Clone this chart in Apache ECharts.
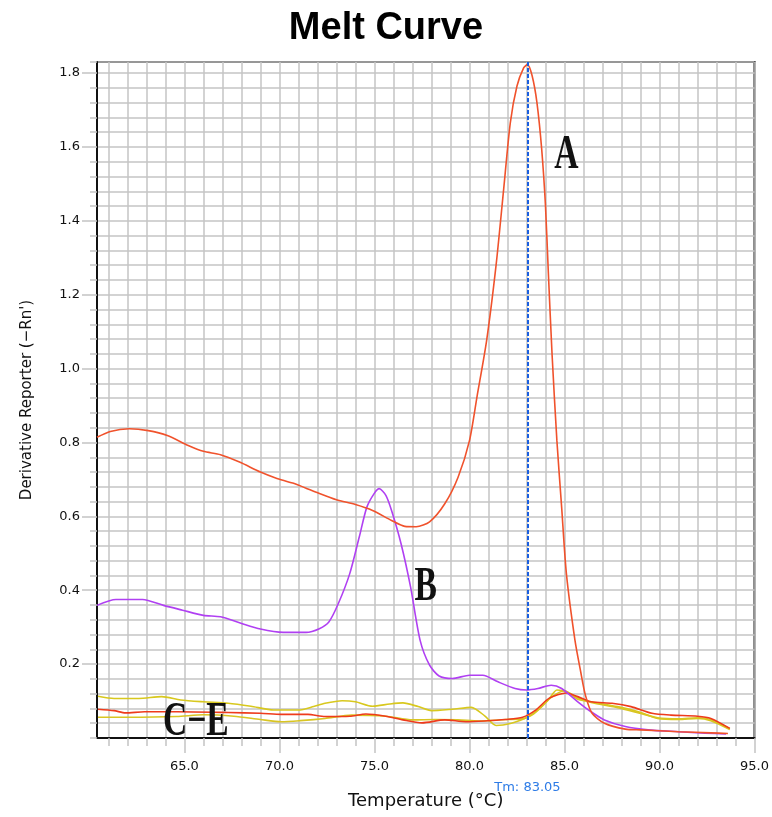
<!DOCTYPE html>
<html>
<head>
<meta charset="utf-8">
<title>Melt Curve</title>
<script src="https://cdn.jsdelivr.net/npm/echarts@6.0.0/dist/echarts.min.js"></script>
<style>
html, body { margin: 0; padding: 0; background: #fff; }
#main { width: 772px; height: 817px; }
</style>
</head>
<body>
<div id="main"></div>
<script>
// sample A (strong peak near 83 C)
var tempA = [60.4, 61.1, 62.1, 63.1, 64.1, 65.2, 66.0, 66.9, 67.9, 69.0, 69.8, 70.7, 71.9, 73.0, 74.0, 74.9,
  75.9, 76.6, 77.2, 77.9, 78.7, 79.4, 80.0, 80.4, 80.9, 81.4, 81.8, 82.15, 82.5, 82.85, 83.05, 83.3, 83.55,
  83.8, 84.0, 84.15, 84.35, 84.6, 84.85, 85.1, 85.55, 85.85, 86.1, 86.45, 87.1, 88.2, 89.0, 91.0, 92.7, 93.6]
var valA = [0.814, 0.830, 0.837, 0.832, 0.819, 0.792, 0.776, 0.767, 0.747, 0.720, 0.704, 0.690, 0.666, 0.645, 0.632, 0.616,
  0.589, 0.573, 0.572, 0.585, 0.634, 0.706, 0.805, 0.925, 1.075, 1.28, 1.486, 1.666, 1.765, 1.814, 1.823, 1.792, 1.72,
  1.594, 1.44, 1.26, 1.035, 0.805, 0.625, 0.445, 0.265, 0.18, 0.116, 0.067, 0.040, 0.024, 0.022, 0.017, 0.014, 0.012]

// sample B (peak near 75 C)
var tempB = [60.4, 61.4, 62.8, 63.9, 64.9, 66.0, 66.9, 67.9, 69.0, 70.2, 71.4, 72.1, 72.6, 73.1, 73.7, 74.2, 74.6,
  75.0, 75.25, 75.6, 75.9, 76.4, 76.9, 77.4, 77.9, 78.4, 79.1, 80.0, 80.7, 81.5, 82.4, 83.0, 83.6, 84.3, 84.85,
  85.7, 86.4, 87.1, 88.2, 89.4, 91.0, 92.4, 93.5]
var valB = [0.359, 0.375, 0.375, 0.359, 0.346, 0.332, 0.328, 0.312, 0.295, 0.286, 0.286, 0.296, 0.314, 0.364, 0.445, 0.544, 0.625,
  0.663, 0.675, 0.657, 0.616, 0.526, 0.409, 0.265, 0.197, 0.168, 0.161, 0.170, 0.170, 0.152, 0.134, 0.130, 0.134, 0.143, 0.134,
  0.098, 0.071, 0.049, 0.031, 0.022, 0.017, 0.013, 0.011]

// C-E group: upper yellow, red, lower yellow
var tempC = [60.45, 61.3, 62.6, 63.8, 64.8, 66.0, 67.3, 68.5, 69.7, 71.1, 71.8, 72.4, 73.3, 74.0, 74.9, 75.8, 76.5,
  77.3, 78.0, 79.1, 80.1, 80.8, 81.4, 82.2, 82.9, 83.4, 84.15, 84.6, 85.1, 85.7, 86.4, 87.8, 88.9, 89.9, 91.0,
  92.0, 92.7, 93.7]
var valC = [0.113, 0.107, 0.107, 0.112, 0.103, 0.098, 0.094, 0.086, 0.076, 0.076, 0.085, 0.094, 0.101, 0.098, 0.086, 0.092, 0.095,
  0.085, 0.074, 0.078, 0.083, 0.060, 0.034, 0.040, 0.053, 0.066, 0.103, 0.130, 0.125, 0.105, 0.098, 0.085, 0.071, 0.053, 0.050,
  0.053, 0.047, 0.023]

var tempD = [60.45, 61.3, 61.9, 62.9, 64.6, 67.3, 69.0, 70.1, 71.5, 72.4, 73.7, 74.55, 75.6, 76.5, 77.5, 78.7, 79.8,
  80.8, 81.9, 82.8, 83.5, 84.2, 85.1, 85.7, 86.4, 87.5, 88.5, 89.6, 90.6, 92.0, 92.7, 93.7]
var valD = [0.078, 0.074, 0.068, 0.071, 0.071, 0.069, 0.067, 0.064, 0.064, 0.058, 0.059, 0.065, 0.059, 0.049, 0.041, 0.049, 0.044,
  0.046, 0.050, 0.056, 0.076, 0.108, 0.122, 0.112, 0.098, 0.094, 0.085, 0.067, 0.062, 0.059, 0.053, 0.026]

var tempE = [60.45, 62.0, 64.6, 66.0, 67.6, 69.0, 70.1, 71.1, 72.4, 73.8, 75.6, 77.0, 78.2, 79.4, 80.5, 81.9, 82.9,
  83.6, 84.3, 85.0, 85.7, 86.4, 87.8, 88.9, 89.9, 91.0, 92.0, 92.7, 93.7]
var valE = [0.056, 0.056, 0.058, 0.063, 0.059, 0.050, 0.044, 0.047, 0.053, 0.062, 0.059, 0.049, 0.050, 0.049, 0.046, 0.050, 0.053,
  0.076, 0.110, 0.128, 0.108, 0.096, 0.082, 0.068, 0.055, 0.052, 0.055, 0.050, 0.025]

var xGridTicks = [61, 62, 63, 64, 65, 66, 67, 68, 69, 70, 71, 72, 73, 74, 75, 76, 77, 78, 79, 80,
  81, 82, 83, 84, 85, 86, 87, 88, 89, 90, 91, 92, 93, 94, 95]
var xLabels = [65, 70, 75, 80, 85, 90, 95]
var yLabels = [0.2, 0.4, 0.6, 0.8, 1.0, 1.2, 1.4, 1.6, 1.8]
var tm = 83.05

// annotation letters: [text, temperature, value]
var notes = [['A', 85.1, 1.576], ['B', 77.7, 0.408], ['C\u2212E', 65.6, 0.043]]

function pairs(xs, ys) {
  var out = []
  for (var i = 0; i < xs.length; i++) {
    out.push([xs[i], ys[i]])
  }
  return out
}

var gridGray = '#c4c4c4'
var font = 'DejaVu Sans'

var myChart = echarts.init(document.getElementById('main'), null, { renderer: 'canvas' })

function lineSeries(name, data, color) {
  return {
    name: name,
    type: 'line',
    data: data,
    showSymbol: false,
    smooth: 0.25,
    lineStyle: { color: color, width: 1.6 },
    z: 3
  }
}

var seriesA = lineSeries('A', pairs(tempA, valA), '#f0522c')
seriesA.markLine = {
  silent: true,
  symbol: 'none',
  lineStyle: { color: '#1a5fe0', type: [4, 2], width: 2 },
  label: {
    show: true,
    position: 'start',
    distance: 43,
    formatter: 'Tm: ' + tm.toFixed(2),
    color: '#2d7be6',
    fontFamily: font,
    fontSize: 13
  },
  data: [{ xAxis: tm }]
}

var option = {
  backgroundColor: '#fff',
  animation: false,
  title: {
    text: 'Melt Curve',
    left: 'center',
    top: 5,
    textStyle: { fontFamily: 'Arial', fontWeight: 'bold', fontSize: 38, color: '#000' }
  },
  grid: {
    left: 97, top: 62, right: 15, bottom: 79,
    show: true,
    borderColor: '#111',
    borderWidth: 2
  },
  xAxis: [
    {
      type: 'value',
      min: 60.4,
      max: 95,
      name: 'Temperature (\u00b0C)',
      nameLocation: 'middle',
      nameGap: 54,
      nameTextStyle: { fontFamily: font, fontSize: 18, color: '#111' },
      axisLine: { show: true, lineStyle: { color: '#111', width: 2 } },
      axisTick: { show: true, customValues: xGridTicks, length: 8, lineStyle: { color: gridGray, width: 1.5 } },
      axisLabel: {
        customValues: xLabels,
        margin: 22,
        fontFamily: font,
        fontSize: 13,
        color: '#111',
        formatter: function (v) { return v.toFixed(1) }
      },
      splitLine: { show: true, lineStyle: { color: gridGray, width: 1.5 } }
    },
    {
      type: 'value',
      min: 60.4,
      max: 95,
      position: 'bottom',
      axisLine: { show: false },
      axisTick: { show: true, customValues: xLabels, length: 15, lineStyle: { color: gridGray, width: 1.5 } },
      axisLabel: { show: false },
      splitLine: { show: false }
    }
  ],
  yAxis: [
    {
      type: 'value',
      min: 0,
      max: 1.83,
      interval: 0.04,
      name: 'Derivative Reporter (\u2212Rn\')',
      nameLocation: 'middle',
      nameGap: 62,
      nameTextStyle: { fontFamily: font, fontSize: 15, color: '#111' },
      axisLine: { show: true, lineStyle: { color: '#111', width: 2 } },
      axisTick: { show: true, length: 7, lineStyle: { color: gridGray, width: 1.5 } },
      axisLabel: {
        customValues: yLabels,
        margin: 17,
        fontFamily: font,
        fontSize: 13,
        color: '#111',
        formatter: function (v) { return v.toFixed(1) }
      },
      splitLine: { show: true, lineStyle: { color: gridGray, width: 1.5 } }
    },
    {
      type: 'value',
      min: 0,
      max: 1.83,
      position: 'left',
      axisLine: { show: false },
      axisTick: { show: true, customValues: yLabels, length: 15, lineStyle: { color: gridGray, width: 1.5 } },
      axisLabel: { show: false },
      splitLine: { show: false }
    }
  ],
  series: [
    lineSeries('C', pairs(tempC, valC), '#d8c81e'),
    lineSeries('E', pairs(tempE, valE), '#d9c522'),
    lineSeries('D', pairs(tempD, valD), '#ee3b1c'),
    lineSeries('B', pairs(tempB, valB), '#b040f2'),
    seriesA
  ]
}

myChart.setOption(option)

// place the letter annotations from data coordinates
var texts = []
for (var i = 0; i < notes.length; i++) {
  var p = myChart.convertToPixel({ gridIndex: 0 }, [notes[i][1], notes[i][2]])
  texts.push({
    type: 'text',
    x: p[0],
    y: p[1],
    scaleX: 0.7,
    z: 10,
    style: {
      text: notes[i][0],
      font: 'bold 48px "Liberation Serif"',
      fill: '#111',
      align: 'center',
      verticalAlign: 'middle'
    }
  })
}
myChart.setOption({ graphic: texts })
</script>
</body>
</html>
